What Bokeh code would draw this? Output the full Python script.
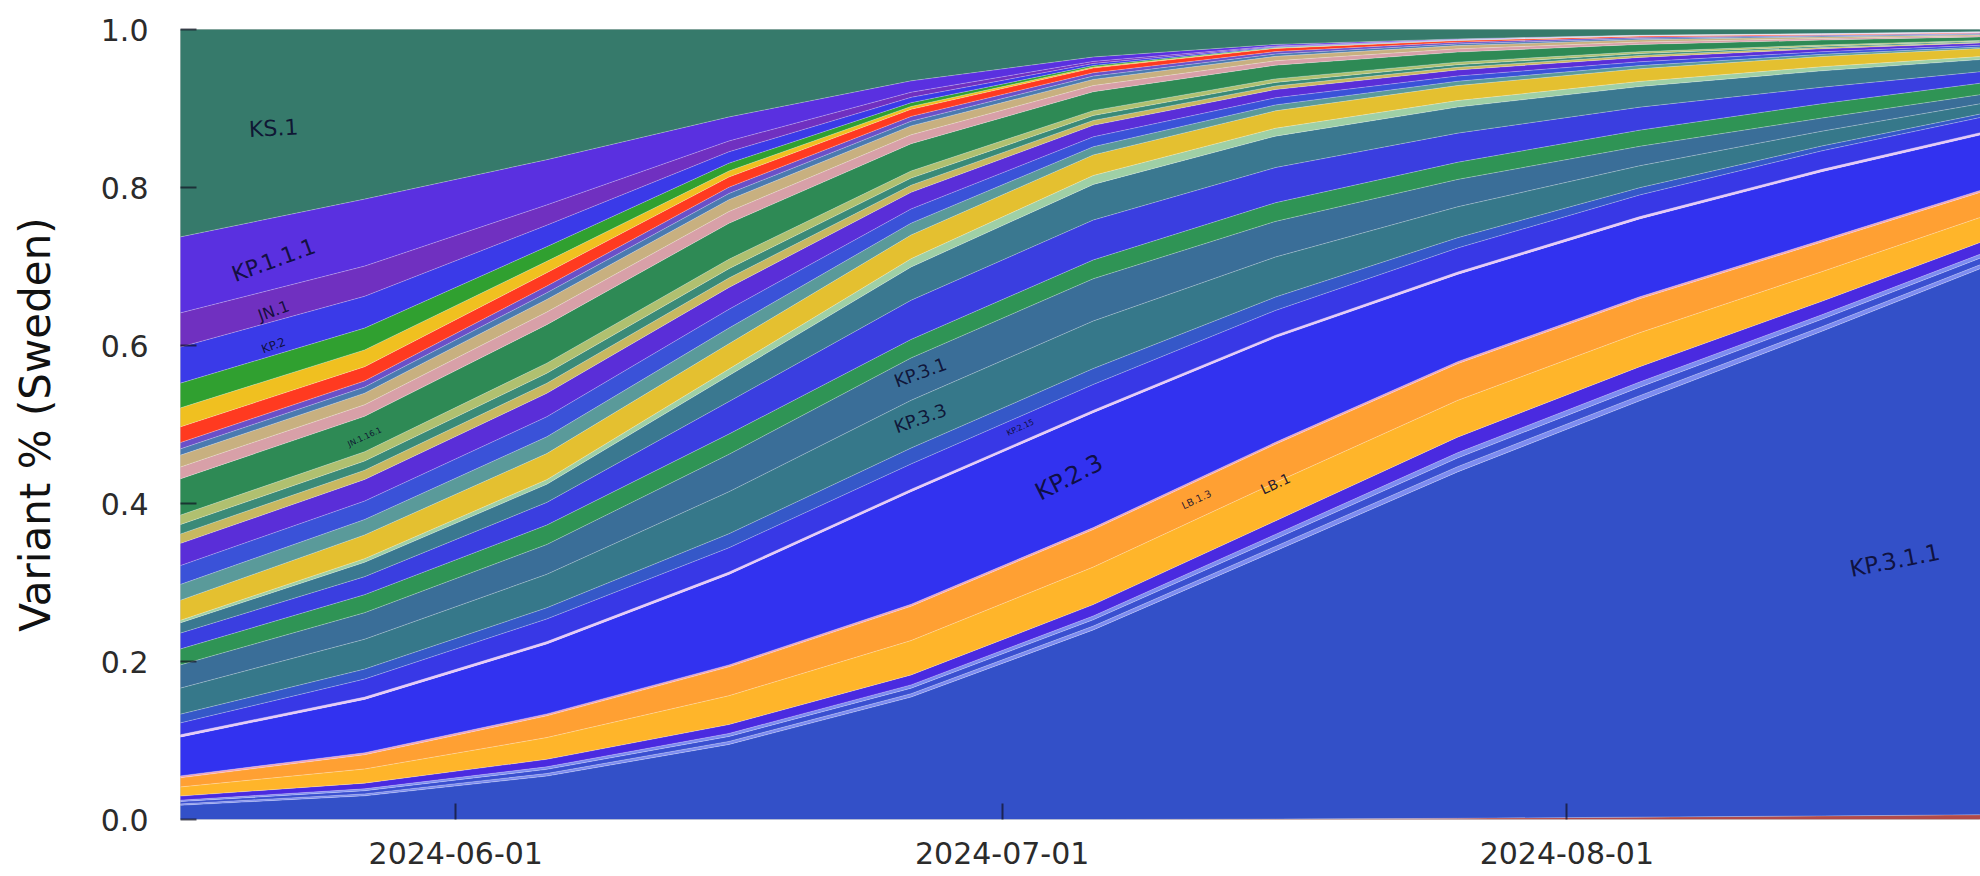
from datetime import datetime
from math import radians
from bokeh.plotting import figure
from bokeh.models import ColumnDataSource, Range1d, FixedTicker, NumeralTickFormatter, DatetimeTickFormatter
from bokeh.core.properties import value
from bokeh.embed import file_html
from bokeh.resources import INLINE

# ---------------- data (shares, bottom -> top) ----------------
dates = [datetime(2024, 5, 16), datetime(2024, 5, 27), datetime(2024, 6, 6), datetime(2024, 6, 16),
         datetime(2024, 6, 26), datetime(2024, 7, 6), datetime(2024, 7, 16), datetime(2024, 7, 26),
         datetime(2024, 8, 5), datetime(2024, 8, 15), datetime(2024, 8, 24)]

xec        = [0, 0, 0, 0, 0, 0, 0.0005, 0.0015, 0.003, 0.0045, 0.006]
kp_3_1_1   = [0.017, 0.030, 0.055, 0.095, 0.155, 0.240, 0.3395, 0.4385, 0.527, 0.6135, 0.694]
minor_a    = [0.0017, 0.0024, 0.0032, 0.0038, 0.0042, 0.0048, 0.0057, 0.0066, 0.0065, 0.0057, 0.0050]
minor_b    = [0.0028, 0.0040, 0.0053, 0.0063, 0.0070, 0.0080, 0.0095, 0.0110, 0.0108, 0.0095, 0.0083]
minor_c    = [0.0017, 0.0024, 0.0032, 0.0038, 0.0042, 0.0048, 0.0057, 0.0066, 0.0065, 0.0057, 0.0050]
kp_3_1_2   = [0.0050, 0.0072, 0.0095, 0.0113, 0.0126, 0.0144, 0.0171, 0.0198, 0.0194, 0.0171, 0.0148]
lb_1       = [0.011, 0.018, 0.0275, 0.0365, 0.0435, 0.0475, 0.0485, 0.0465, 0.043, 0.0375, 0.0315]
lb_1_3     = [0.011, 0.018, 0.0275, 0.0365, 0.0435, 0.0475, 0.0485, 0.0465, 0.043, 0.0375, 0.0315]
minor_d    = [0.0025, 0.0025, 0.0025, 0.0025, 0.0025, 0.0025, 0.0025, 0.0025, 0.0025, 0.0025, 0.0025]
kp_2_3     = [0.0475, 0.0675, 0.0885, 0.1145, 0.1425, 0.1455, 0.1325, 0.1105, 0.0985, 0.0865, 0.0695]
minor_e    = [0.003, 0.003, 0.003, 0.003, 0.003, 0.003, 0.003, 0.003, 0.003, 0.003, 0.003]
kp_2_15    = [0.0142, 0.0228, 0.0287, 0.0308, 0.0321, 0.0327, 0.0314, 0.0304, 0.0274, 0.0234, 0.0190]
minor_f    = [0.0109, 0.0126, 0.0141, 0.0177, 0.0201, 0.0201, 0.0169, 0.0130, 0.0092, 0.0062, 0.0043]
kp_3_3     = [0.0326, 0.0378, 0.0424, 0.0532, 0.0604, 0.0602, 0.0507, 0.0391, 0.0277, 0.0187, 0.0128]
kp_3_1     = [0.0290, 0.0336, 0.0377, 0.0473, 0.0537, 0.0535, 0.0451, 0.0347, 0.0246, 0.0166, 0.0114]
minor_g    = [0.0199, 0.0228, 0.0246, 0.0257, 0.0234, 0.0238, 0.0236, 0.0217, 0.0205, 0.0182, 0.0143]
minor_h    = [0.0199, 0.0228, 0.0287, 0.0411, 0.0496, 0.0505, 0.0445, 0.0369, 0.0291, 0.0208, 0.0143]
minor_j    = [0.0125, 0.0182, 0.0230, 0.0330, 0.0421, 0.0451, 0.0398, 0.0330, 0.0261, 0.0208, 0.0152]
minor_i    = [0.0031, 0.0046, 0.0058, 0.0082, 0.0105, 0.0113, 0.0100, 0.0082, 0.0065, 0.0052, 0.0038]
jn_1_11    = [0.025, 0.030, 0.033, 0.032, 0.030, 0.026, 0.022, 0.019, 0.016, 0.013, 0.010]
minor_k    = [0.020, 0.0195, 0.0212, 0.0198, 0.0150, 0.0104, 0.0075, 0.0055, 0.0040, 0.0027, 0.0019]
minor_l    = [0.024, 0.0234, 0.0254, 0.0238, 0.0180, 0.0125, 0.0090, 0.0066, 0.0048, 0.0032, 0.0023]
minor_m    = [0.028, 0.0273, 0.0297, 0.0277, 0.0210, 0.0146, 0.0105, 0.0077, 0.0056, 0.0038, 0.0027]
minor_n    = [0.012, 0.0117, 0.0127, 0.0119, 0.0090, 0.0062, 0.0045, 0.0033, 0.0024, 0.0016, 0.0011]
minor_o    = [0.012, 0.0117, 0.0127, 0.0119, 0.0090, 0.0062, 0.0045, 0.0033, 0.0024, 0.0016, 0.0011]
minor_p    = [0.012, 0.0117, 0.0127, 0.0119, 0.0090, 0.0062, 0.0045, 0.0033, 0.0024, 0.0016, 0.0011]
jn_1_16_1  = [0.046, 0.0449, 0.0488, 0.0455, 0.0345, 0.0239, 0.0173, 0.0127, 0.0092, 0.0062, 0.0044]
minor_q    = [0.015, 0.0146, 0.0159, 0.0149, 0.0113, 0.0078, 0.0056, 0.0041, 0.0030, 0.0020, 0.0014]
minor_r    = [0.015, 0.0146, 0.0159, 0.0149, 0.0113, 0.0078, 0.0056, 0.0041, 0.0030, 0.0020, 0.0014]
minor_s    = [0.008, 0.0078, 0.0085, 0.0079, 0.0060, 0.0042, 0.0030, 0.0022, 0.0016, 0.0011, 0.0008]
minor_t    = [0.008, 0.0078, 0.0085, 0.0079, 0.0060, 0.0042, 0.0030, 0.0022, 0.0016, 0.0011, 0.0008]
minor_u    = [0.020, 0.018, 0.017, 0.013, 0.009, 0.006, 0.004, 0.002, 0.0015, 0.001, 0.001]
minor_v    = [0.0243, 0.0212, 0.0143, 0.0076, 0.0036, 0.0014, 0.0005, 0.0002, 0.0001, 0.0001, 0.0001]
minor_w    = [0.0316, 0.0276, 0.0186, 0.0099, 0.0047, 0.0018, 0.0007, 0.0003, 0.0001, 0.0001, 0.0001]
kp_2       = [0.0462, 0.0403, 0.0272, 0.0144, 0.0068, 0.0027, 0.0010, 0.0004, 0.0002, 0.0002, 0.0002]
jn_1       = [0.0437, 0.0382, 0.0257, 0.0137, 0.0065, 0.0025, 0.0009, 0.0004, 0.0002, 0.0002, 0.0002]
kp_1_1_1   = [0.0972, 0.0848, 0.0572, 0.0304, 0.0144, 0.0056, 0.0020, 0.0008, 0.0004, 0.0004, 0.0004]
ks_1       = [0.270, 0.218, 0.168, 0.114, 0.068, 0.038, 0.023, 0.015, 0.011, 0.008, 0.006]

series = [
    ("xec", xec, "#b04a4a"), ("kp_3_1_1", kp_3_1_1, "#3350c8"), ("minor_a", minor_a, "#7d8cf0"),
    ("minor_b", minor_b, "#3a50d0"), ("minor_c", minor_c, "#7d8cf0"), ("kp_3_1_2", kp_3_1_2, "#4a2ae0"),
    ("lb_1", lb_1, "#ffb52a"), ("lb_1_3", lb_1_3, "#ffa033"), ("minor_d", minor_d, "#f0a0b8"),
    ("kp_2_3", kp_2_3, "#3232f0"), ("minor_e", minor_e, "#e6c6f5"), ("kp_2_15", kp_2_15, "#3838e6"),
    ("minor_f", minor_f, "#3558c8"), ("kp_3_3", kp_3_3, "#36788a"), ("kp_3_1", kp_3_1, "#3a6e98"),
    ("minor_g", minor_g, "#2f9455"), ("minor_h", minor_h, "#3a3ee0"), ("minor_j", minor_j, "#3a7890"),
    ("minor_i", minor_i, "#9fd0a6"), ("jn_1_11", jn_1_11, "#e4c030"), ("minor_k", minor_k, "#5a9a9a"),
    ("minor_l", minor_l, "#3a52d8"), ("minor_m", minor_m, "#5a2ed8"), ("minor_n", minor_n, "#c8b860"),
    ("minor_o", minor_o, "#3a8a78"), ("minor_p", minor_p, "#b0c070"), ("jn_1_16_1", jn_1_16_1, "#2e8a55"),
    ("minor_q", minor_q, "#d8a0a8"), ("minor_r", minor_r, "#c8b080"), ("minor_s", minor_s, "#4a7ab0"),
    ("minor_t", minor_t, "#6a50c8"), ("minor_u", minor_u, "#ff3a20"), ("minor_v", minor_v, "#f0c020"),
    ("minor_w", minor_w, "#30a030"), ("kp_2", kp_2, "#3a3ae8"), ("jn_1", jn_1, "#7030c0"),
    ("kp_1_1_1", kp_1_1_1, "#5a30e0"), ("ks_1", ks_1, "#367a6b"),
]

# labels: text, date, share position, angle (deg), font size (px)
label_text  = ["KS.1", "KP.1.1.1", "JN.1", "KP.2", "JN.1.16.1", "KP.3.1", "KP.3.3", "KP.2.15",
               "KP.2.3", "LB.1.3", "LB.1", "KP.3.1.1"]
label_date  = [datetime(2024, 5, 22), datetime(2024, 5, 22), datetime(2024, 5, 22), datetime(2024, 5, 22),
               datetime(2024, 5, 27), datetime(2024, 6, 26, 12), datetime(2024, 6, 26, 12),
               datetime(2024, 7, 2), datetime(2024, 7, 4, 16), datetime(2024, 7, 11, 16),
               datetime(2024, 7, 16), datetime(2024, 8, 19)]
label_y     = [0.875, 0.708, 0.644, 0.600, 0.484, 0.566, 0.508, 0.496, 0.433, 0.405, 0.425, 0.328]
label_angle = [3, 20, 20, 20, 25, 20, 20, 25, 27, 25, 25, 11]
label_size  = [22, 22, 16, 12, 8, 18, 18, 8, 24, 10, 14, 23]

# ---------------- figure ----------------
data = {"date": dates}
for key, vals, _ in series:
    data[key] = vals
src = ColumnDataSource(data)

p = figure(width=1980, height=876, x_axis_type="datetime",
           x_range=Range1d(datetime(2024, 5, 16, 21, 22), datetime(2024, 8, 23, 17, 0)),
           y_range=Range1d(0, 1), output_backend="svg", toolbar_location=None,
           min_border_left=180, min_border_right=0, min_border_top=29, min_border_bottom=57)

keys = [s[0] for s in series]
cols = [s[2] for s in series]
p.varea_stack(stackers=keys, x="date", color=cols, source=src)
p.vline_stack(stackers=keys[:-1], x="date", color="white", alpha=0.28, line_width=1, source=src)

for t, d, yv, a, s in zip(label_text, label_date, label_y, label_angle, label_size):
    p.text(x=[d], y=[yv], text=[t], angle=radians(a), text_align="center", text_baseline="middle",
           text_font=value("DejaVu Sans"), text_font_size=value(f"{s}px"), text_color="#0b0b2e",
           text_alpha=0.9)

epoch = datetime(1970, 1, 1)
xticks = [(datetime(2024, m, 1) - epoch).total_seconds() * 1000 for m in (6, 7, 8)]
p.xaxis.ticker = FixedTicker(ticks=xticks)
fmt = "%Y-%m-%d"
p.xaxis.formatter = DatetimeTickFormatter(days=fmt, months=fmt, years=fmt, hours=fmt, minutes=fmt,
                                          seconds=fmt, milliseconds=fmt, minsec=fmt, hourmin=fmt)
p.yaxis.ticker = FixedTicker(ticks=[0, 0.2, 0.4, 0.6, 0.8, 1.0])
p.yaxis.formatter = NumeralTickFormatter(format="0.0")

for ax in (p.xaxis, p.yaxis):
    ax.axis_line_color = None
    ax.major_tick_in = 16
    ax.major_tick_out = 0
    ax.minor_tick_line_color = None
    ax.major_tick_line_color = "#111122"
    ax.major_tick_line_width = 2
    ax.major_tick_line_alpha = 0.7
    ax.major_label_text_font = "DejaVu Sans"
    ax.major_label_text_font_size = "30px"
    ax.major_label_text_color = "#2b2b2b"

p.xaxis.major_label_standoff = 22
p.yaxis.major_label_standoff = 32
p.yaxis.axis_label = "Variant % (Sweden)"
p.yaxis.axis_label_text_font = "DejaVu Sans"
p.yaxis.axis_label_text_font_size = "42px"
p.yaxis.axis_label_text_font_style = "normal"
p.yaxis.axis_label_text_color = "#111111"
p.yaxis.axis_label_standoff = 38

p.grid.visible = False
p.outline_line_color = "#cfcfcf"
p.outline_line_width = 1
p.background_fill_color = "white"
p.border_fill_color = "white"

open("out.html", "w").write(file_html(p, INLINE))
